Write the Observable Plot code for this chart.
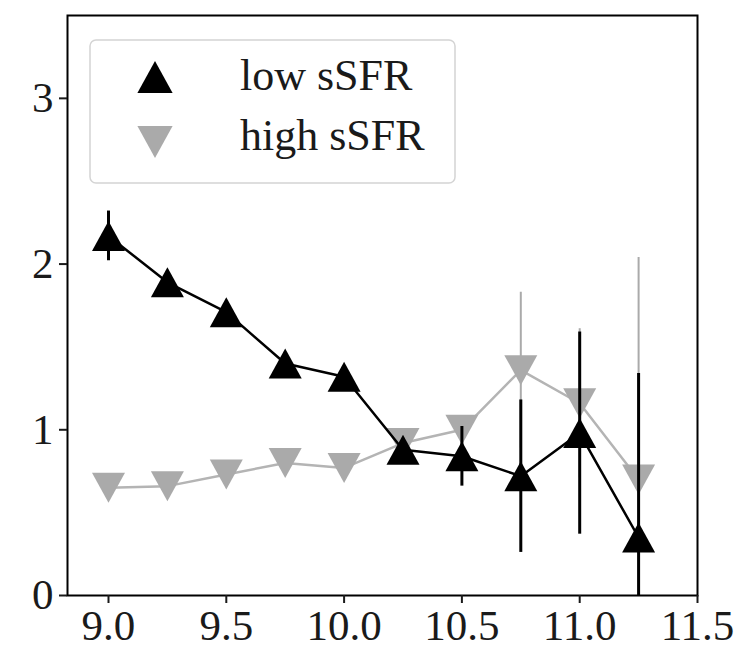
<!DOCTYPE html>
<html>
<head>
<meta charset="utf-8">
<script src="https://cdn.jsdelivr.net/npm/d3@7"></script>
<script src="https://cdn.jsdelivr.net/npm/@observablehq/plot@0.6"></script>
<style>
  body { margin: 0; background: #fff; }
  #wrap { position: relative; width: 744px; height: 650px; }
  #legend { position: absolute; left: 0; top: 0; pointer-events: none; }
</style>
</head>
<body>
<div id="wrap"></div>
<script>
// ---- data ----
const mass = [9.0, 9.25, 9.5, 9.75, 10.0, 10.25, 10.5, 10.75, 11.0, 11.25];
const lowSSFR = [2.17, 1.89, 1.71, 1.40, 1.32, 0.88, 0.84, 0.72, 0.98, 0.35];
const lowErr  = [0.15, 0.06, 0.06, 0.05, 0.05, 0.06, 0.18, 0.46, 0.61, 0.99];
const highSSFR = [0.65, 0.66, 0.73, 0.80, 0.77, 0.92, 1.00, 1.36, 1.16, 0.70];
const highErr  = [0.04, 0.04, 0.07, 0.06, 0.06, 0.06, 0.08, 0.47, 0.45, 1.34];
const xTicks = [9.0, 9.5, 10.0, 10.5, 11.0, 11.5];
const yTicks = [0, 1, 2, 3];
const seriesNames = ["low sSFR", "high sSFR"];

const low = mass.map((x, i) => ({x, y: lowSSFR[i], lo: lowSSFR[i] - lowErr[i], hi: lowSSFR[i] + lowErr[i]}));
const high = mass.map((x, i) => ({x, y: highSSFR[i], lo: highSSFR[i] - highErr[i], hi: highSSFR[i] + highErr[i]}));

// bbox-centred triangles like matplotlib's ^ and v markers
const triUp = {draw(ctx, size) { const r = Math.sqrt(size / Math.PI); ctx.moveTo(0, -r); ctx.lineTo(r * 1.1, r); ctx.lineTo(-r * 1.1, r); ctx.closePath(); }};
const triDown = {draw(ctx, size) { const r = Math.sqrt(size / Math.PI); ctx.moveTo(0, r); ctx.lineTo(r * 1.1, -r); ctx.lineTo(-r * 1.1, -r); ctx.closePath(); }};

const BLACK = "#000000", GRAY = "#aaaaaa", GRAYLINE = "#b4b4b4";
const FONT = "Liberation Serif, DejaVu Serif, serif";

const chart = Plot.plot({
  width: 744, height: 650,
  marginLeft: 67, marginRight: 47, marginTop: 15, marginBottom: 55,
  style: {fontFamily: FONT, fontSize: "43px", color: "#1a1a1a", background: "white"},
  x: {domain: [8.826, 11.5]},
  y: {domain: [0, 3.5]},
  marks: [
    // high sSFR
    Plot.ruleX(high, {x: "x", y1: "lo", y2: "hi", stroke: GRAY, strokeWidth: 2, clip: true}),
    Plot.line(high, {x: "x", y: "y", stroke: GRAYLINE, strokeWidth: 2.5}),
    Plot.dot(high, {x: "x", y: "y", symbol: triDown, r: 15, fill: GRAY, stroke: "none"}),
    // low sSFR
    Plot.ruleX(low, {x: "x", y1: "lo", y2: "hi", stroke: BLACK, strokeWidth: 3, clip: true}),
    Plot.line(low, {x: "x", y: "y", stroke: BLACK, strokeWidth: 2.5}),
    Plot.dot(low, {x: "x", y: "y", symbol: triUp, r: 15, fill: BLACK, stroke: "none"}),
    Plot.frame({stroke: "black", strokeWidth: 2}),
    Plot.axisX({ticks: xTicks, tickFormat: d => d.toFixed(1), tickSize: 8, tickPadding: 6, strokeWidth: 2, label: null, fontSize: 43}),
    Plot.axisY({ticks: yTicks, tickFormat: d => String(d), tickSize: 8, tickPadding: 6, strokeWidth: 2, label: null, fontSize: 43})
  ]
});

const wrap = document.getElementById("wrap");
wrap.appendChild(chart);

// legend overlay
const ns = "http://www.w3.org/2000/svg";
const lg = document.createElementNS(ns, "svg");
lg.setAttribute("id", "legend");
lg.setAttribute("width", 744);
lg.setAttribute("height", 650);
const box = document.createElementNS(ns, "rect");
Object.entries({x: 90, y: 40, width: 365, height: 143, rx: 6, fill: "white", "fill-opacity": 0.8, stroke: "#d4d4d4", "stroke-width": 1.5})
  .forEach(([k, v]) => box.setAttribute(k, v));
lg.appendChild(box);
const entries = [
  {name: seriesNames[0], sym: triUp, color: BLACK, cy: 77, base: 90},
  {name: seriesNames[1], sym: triDown, color: GRAY, cy: 142, base: 150}
];
for (const e of entries) {
  const p = document.createElementNS(ns, "path");
  const path = d3.path();
  e.sym.draw(path, 16 * 16 * Math.PI);
  p.setAttribute("d", path.toString());
  p.setAttribute("transform", `translate(155,${e.cy})`);
  p.setAttribute("fill", e.color);
  lg.appendChild(p);
  const t = document.createElementNS(ns, "text");
  t.setAttribute("x", 240);
  t.setAttribute("y", e.base);
  t.setAttribute("font-family", FONT);
  t.setAttribute("font-size", 44);
  t.setAttribute("fill", "#1a1a1a");
  t.textContent = e.name;
  lg.appendChild(t);
}
wrap.appendChild(lg);
</script>
</body>
</html>
